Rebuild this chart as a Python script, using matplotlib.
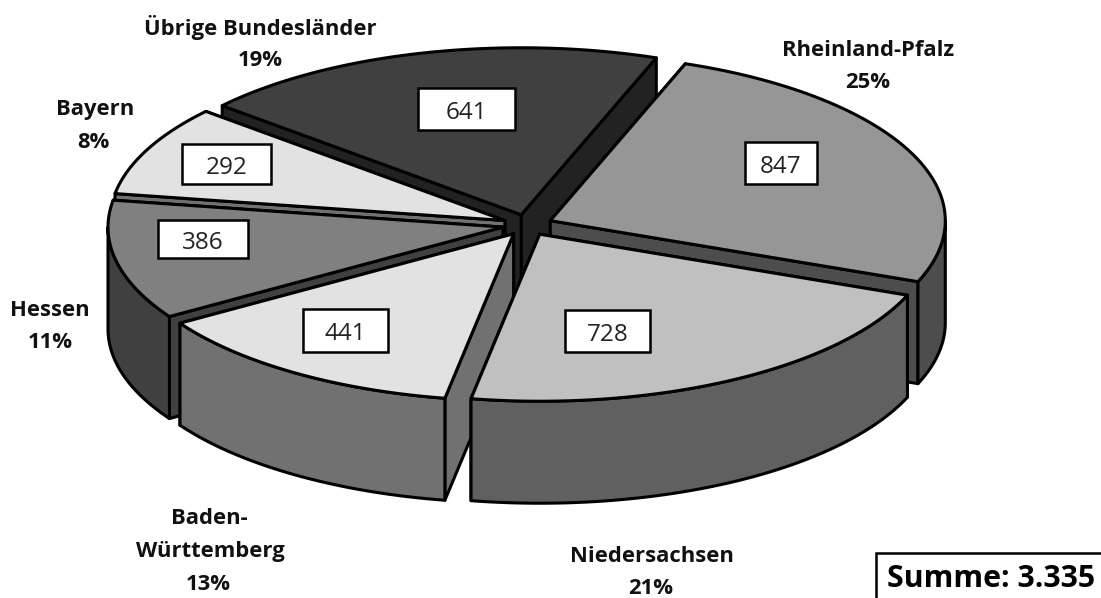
import numpy as np
import matplotlib
matplotlib.use("Agg")
import matplotlib.pyplot as plt
from matplotlib.patches import Polygon, Rectangle

# data
names = ["Rheinland-Pfalz", "Niedersachsen", "Baden-Württemberg", "Hessen", "Bayern", "Übrige Bundesländer"]
values = [847, 728, 441, 386, 292, 641]
shares = ["25%", "21%", "13%", "11%", "8%", "19%"]
total_label = "Summe: 3.335"

# style per slice
top_colors = ["#969696", "#c0c0c0", "#e2e2e2", "#808080", "#e2e2e2", "#404040"]
wall_colors = ["#4d4d4d", "#606060", "#717171", "#404040", "#717171", "#222222"]
draw_order = [5, 4, 0, 3, 2, 1]

# layout (pixels)
W, H = 1101, 598
CX, CY = 527.5, 225.0
RX, RY = 395.0, 167.0
DEPTH = 102.0
EXPLODE = 25.0 / RX
START = 20.0
LW = 2.2
# left, right, top, bottom of each value box
value_boxes = [(745, 817, 142, 184), (565, 650, 310, 352), (303, 388, 309, 352),
               (158, 248, 220, 258), (182, 271, 144, 184), (418, 515, 88, 130)]
name_lines = [
    [("Rheinland-Pfalz", 868, 51), ("25%", 868, 83)],
    [("Niedersachsen", 652, 557), ("21%", 651, 589)],
    [("Baden-", 209, 518), ("Württemberg", 210, 551), ("13%", 208, 584)],
    [("Hessen", 50, 311), ("11%", 50, 343)],
    [("Bayern", 95, 110), ("8%", 93, 142)],
    [("Übrige Bundesländer", 260, 28), ("19%", 260, 61)],
]

plt.rcParams["font.family"] = ["Open Sans", "DejaVu Sans"]
fig = plt.figure(figsize=(W / 100, H / 100), dpi=100, facecolor="white")
ax = fig.add_axes([0, 0, 1, 1])
ax.set_xlim(0, W)
ax.set_ylim(H, 0)
ax.axis("off")

vals = np.array(values, float)
sweeps = vals / vals.sum() * 360.0
starts = START + np.concatenate([[0], np.cumsum(sweeps)[:-1]])


def rim(ox, oy, a):
    a = np.radians(a)
    return np.column_stack([ox + RX * np.sin(a), oy - RY * np.cos(a)])


def poly(pts, fc, z):
    ax.add_patch(Polygon(pts, closed=True, facecolor=fc, edgecolor="black",
                         linewidth=LW, joinstyle="round", zorder=z))


z = 1
for i in draw_order:
    a0, a1 = starts[i], starts[i] + sweeps[i]
    mid = np.radians((a0 + a1) / 2)
    ox = CX + EXPLODE * RX * np.sin(mid)
    oy = CY - EXPLODE * RY * np.cos(mid)
    down = np.array([0, DEPTH])
    apex = np.array([ox, oy])
    # cut walls, the one further back first
    for a in sorted((a0, a1), key=lambda t: -np.cos(np.radians(t))):
        p = rim(ox, oy, a)[0]
        poly([apex, p, p + down, apex + down], wall_colors[i], z)
        z += 1
    # outer wall, only the part that faces the viewer
    lo = max(a0, 90.0)
    hi = min(a1, 270.0)
    if hi > lo:
        arc = rim(ox, oy, np.linspace(lo, hi, 120))
        poly(np.vstack([arc, (arc + down)[::-1]]), wall_colors[i], z)
        z += 1
    # top face
    arc = rim(ox, oy, np.linspace(a0, a1, 200))
    poly(np.vstack([apex, arc]), top_colors[i], z)
    z += 1

for v, (x0, x1, y0, y1) in zip(values, value_boxes):
    ax.add_patch(Rectangle((x0, y0), x1 - x0, y1 - y0, facecolor="white",
                           edgecolor="black", linewidth=1.8, zorder=100))
    ax.text((x0 + x1) / 2, (y0 + y1) / 2 + 1, str(v), ha="center", va="center_baseline",
            fontsize=17.5, color="#222222", zorder=101)

for lines in name_lines:
    for s, x, y in lines:
        ax.text(x, y, s, ha="center", va="center", fontsize=15.8, fontweight="bold",
                color="#111111", zorder=101)

ax.add_patch(Rectangle((876, 553), 260, 70, facecolor="white", edgecolor="black", linewidth=1.8, zorder=100))
ax.text(887, 579, total_label, ha="left", va="center", fontsize=21.8, fontweight="bold", color="black", zorder=101)

fig.savefig("out.png", dpi=100)
